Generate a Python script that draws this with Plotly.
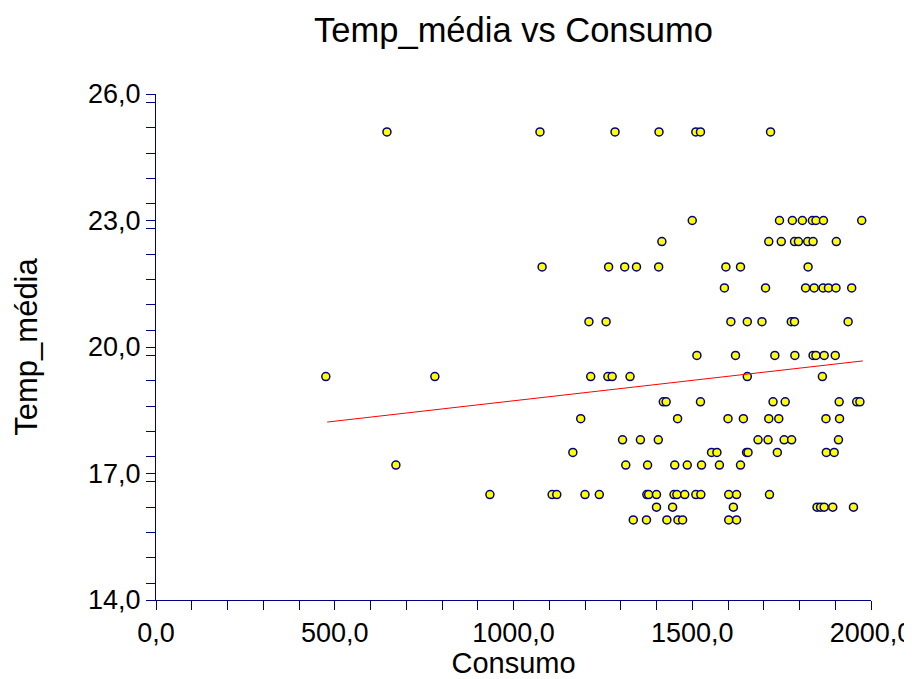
import plotly.graph_objects as go

# Data (Consumo, Temp_média)
temp_levels = [25.1, 23.0, 22.5, 21.9, 21.4, 20.6, 19.8, 19.3,
               18.7, 18.3, 17.8, 17.5, 17.2, 16.5, 16.2, 15.9]
consumo_by_level = [
    [646, 1074, 1284, 1407, 1510, 1523, 1719],
    [1500, 1744, 1780, 1808, 1836, 1846, 1867, 1974],
    [1415, 1714, 1749, 1786, 1797, 1823, 1838, 1903],
    [1080, 1266, 1311, 1344, 1406, 1594, 1635, 1824],
    [1590, 1705, 1817, 1841, 1866, 1881, 1902, 1946],
    [1211, 1259, 1608, 1654, 1695, 1777, 1786, 1936],
    [1513, 1621, 1731, 1787, 1838, 1846, 1869, 1900],
    [475, 780, 1216, 1264, 1276, 1326, 1654, 1864],
    [1419, 1427, 1523, 1726, 1760, 1911, 1960, 1969],
    [1188, 1459, 1600, 1643, 1714, 1742, 1874, 1912],
    [1305, 1355, 1405, 1684, 1712, 1757, 1778, 1909],
    [1166, 1554, 1569, 1652, 1656, 1738, 1875, 1897],
    [671, 1314, 1375, 1451, 1486, 1526, 1576, 1635],
    [934, 1108, 1121, 1200, 1240, 1373, 1378, 1400, 1449, 1457, 1479,
     1510, 1524, 1602, 1624, 1716],
    [1400, 1445, 1615, 1849, 1859, 1869, 1893, 1951],
    [1335, 1372, 1429, 1460, 1473, 1602, 1624],
]

# Fitted trend line endpoints
trend_x = [479, 1977]
trend_y = [18.22, 19.67]

x_vals = []
y_vals = []
for t, xs in zip(temp_levels, consumo_by_level):
    for c in xs:
        x_vals.append(c)
        y_vals.append(t)

NAVY = "#000080"
FONT = "Arial, Liberation Sans, sans-serif"

# page body has an 8px margin; figure is sized to fit the 912x679 window
W, H = 904, 671

fig = go.Figure()
fig.add_trace(go.Scatter(
    x=x_vals, y=y_vals, mode="markers",
    marker=dict(size=8, color="#FFFF00", line=dict(color=NAVY, width=1.5)),
    showlegend=False, cliponaxis=False,
))
fig.add_trace(go.Scatter(
    x=trend_x, y=trend_y, mode="lines",
    line=dict(color="#FF0000", width=1), showlegend=False,
))

fig.update_layout(
    width=W, height=H,
    margin=dict(l=148, r=41, t=86, b=79),
    paper_bgcolor="white", plot_bgcolor="white",
    separators=",.",
    font=dict(family=FONT, color="black"),
    title=dict(text="Temp_média vs Consumo", x=0.5, xref="paper",
               y=1 - 21.5 / H, yref="container", yanchor="middle",
               font=dict(size=34.5, family=FONT, color="black")),
)

fig.update_xaxes(
    range=[0, 2000], tickmode="linear", tick0=0, dtick=500,
    tickformat=".1f", showgrid=False, zeroline=False,
    showline=True, linecolor=NAVY, linewidth=1, automargin=False,
    ticklabeloverflow="allow",
    ticks="outside", ticklen=9, tickcolor=NAVY, tickwidth=1,
    tickfont=dict(size=27, family=FONT, color="black"),
    minor=dict(ticks="outside", dtick=100, ticklen=9, tickcolor=NAVY, showgrid=False),
    title=dict(text="Consumo", font=dict(size=29, family=FONT, color="black"), standoff=16),
)
fig.update_yaxes(
    range=[14, 26], tickmode="linear", tick0=14, dtick=3,
    tickformat=".1f", showgrid=False, zeroline=False,
    showline=True, linecolor=NAVY, linewidth=1, automargin=False,
    ticklabeloverflow="allow",
    ticks="outside", ticklen=9, tickcolor=NAVY, tickwidth=1,
    tickfont=dict(size=27, family=FONT, color="black"),
    minor=dict(ticks="outside", dtick=0.6, ticklen=9, tickcolor=NAVY, showgrid=False),
    title=dict(text="Temp_média", font=dict(size=31, family=FONT, color="black"), standoff=41),
)

fig.write_html("out.html")
